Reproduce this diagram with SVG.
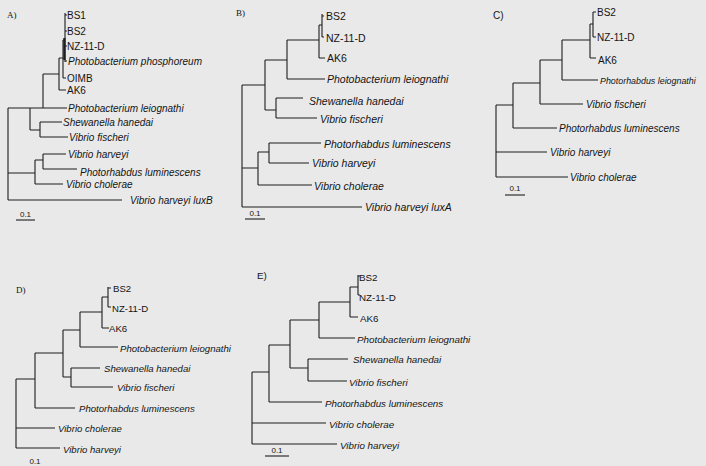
<svg xmlns="http://www.w3.org/2000/svg" width="706" height="466" viewBox="0 0 706 466">
<style>
.bg{fill:#e9e9e9}
.e path{fill:none;stroke:#1e1e1e;stroke-width:1.1}
text{font-family:"Liberation Sans",Arial,sans-serif;font-size:10px;fill:#141414}
#panelB text{font-size:10.5px}
#panelD text{font-size:9.6px}
#panelE text{font-size:9.8px}
#panelC text.small{font-size:8.9px}
.sp{font-style:italic}
#panelA .pl,#panelB .pl,#panelD .pl{font-family:"Liberation Serif","Times New Roman",serif;font-size:9px}
.pls{font-size:10px}
#panelA .sc,#panelB .sc,#panelC .sc,#panelD .sc,#panelE .sc{font-size:8px}
</style>
<rect class="bg" x="0" y="0" width="706" height="466"/>

<!-- Panel A -->
<g id="panelA">
<text class="pl" x="7" y="18">A)</text>
<g id="A-edges" class="e">
<path d="M8 108V200M8 108H30M30 108V130M30 108H43M43 74V108M43 108H67M43 74H59M59 58V90M59 90H66M59 58H63M63 40V78M63 78H66M63 40H65M65 13V62M65 15H67M65 31H67M65 46H67M65 61H67"/>
<path d="M30 130H40M40 122V137M40 122H62M40 137H68"/>
<path d="M8 173H35M35 160V184M35 160H43M43 154V169M43 154H66M43 169H77M35 184H63M8 200H122"/>
<path d="M16 220H35"/>
<rect x="63.3" y="38" width="2.2" height="22" fill="#1e1e1e" stroke="none"/>
</g>
<g id="A-BS1"><text x="67" y="19">BS1</text></g>
<g id="A-BS2"><text x="67" y="35">BS2</text></g>
<g id="A-NZ"><text x="67" y="50">NZ-11-D</text></g>
<g id="A-Pphos"><text class="sp" x="68" y="65">Photobacterium phosphoreum</text></g>
<g id="A-OIMB"><text x="67" y="82">OIMB</text></g>
<g id="A-AK6"><text x="67" y="94">AK6</text></g>
<g id="A-Pleio"><text class="sp" x="68" y="112">Photobacterium leiognathi</text></g>
<g id="A-Shew"><text class="sp" x="63" y="126">Shewanella hanedai</text></g>
<g id="A-Vfis"><text class="sp" x="69" y="141">Vibrio fischeri</text></g>
<g id="A-Vhar"><text class="sp" x="68" y="158">Vibrio harveyi</text></g>
<g id="A-Plum"><text class="sp" x="80" y="176">Photorhabdus luminescens</text></g>
<g id="A-Vcho"><text class="sp" x="66" y="188">Vibrio cholerae</text></g>
<g id="A-luxB"><text class="sp" x="130" y="204">Vibrio harveyi luxB</text></g>
<g id="A-scale"><text class="sc" x="25.5" y="217" text-anchor="middle">0.1</text></g>
</g>

<!-- Panel B -->
<g id="panelB">
<text class="pl" x="236" y="16">B)</text>
<g id="B-edges" class="e">
<path d="M242 85V207M242 85H265M265 60V110M265 60H287M287 40V79M287 79H325M287 40H319M319 25V58M319 58H325M319 25H322M322 14V37M322 16H324M322 37H324"/>
<path d="M265 110H276M276 98V118M276 98H303M276 118H317"/>
<path d="M242 168H258M258 152V185M258 152H269M269 143V163M269 143H321M269 163H309M258 185H312M242 207H362"/>
<path d="M245 219H265"/>
</g>
<g id="B-BS2"><text x="326" y="20">BS2</text></g>
<g id="B-NZ"><text x="326" y="42">NZ-11-D</text></g>
<g id="B-AK6"><text x="327" y="62">AK6</text></g>
<g id="B-Pleio"><text class="sp" x="327" y="83">Photobacterium leiognathi</text></g>
<g id="B-Shew"><text class="sp" x="309" y="105">Shewanella hanedai</text></g>
<g id="B-Vfis"><text class="sp" x="320" y="123">Vibrio fischeri</text></g>
<g id="B-Plum"><text class="sp" x="324" y="148">Photorhabdus luminescens</text></g>
<g id="B-Vhar"><text class="sp" x="312" y="167">Vibrio harveyi</text></g>
<g id="B-Vcho"><text class="sp" x="314" y="190">Vibrio cholerae</text></g>
<g id="B-luxA"><text class="sp" x="365" y="211">Vibrio harveyi luxA</text></g>
<g id="B-scale"><text class="sc" x="255" y="216" text-anchor="middle">0.1</text></g>
</g>

<!-- Panel C -->
<g id="panelC">
<text class="pls" x="493" y="19">C)</text>
<g id="C-edges" class="e">
<path d="M593 12V37M593 12H596M593 37H596M590 24H593M590 24V58M590 58H596M562 40H590M562 40V80M562 80H598M540 60H562M540 60V104M540 104H583M513 83H540M513 83V128M513 128H557M496 105H513M496 105V177M496 152H547M496 177H568"/>
<path d="M505 195H525"/>
</g>
<g id="C-BS2"><text x="597" y="16">BS2</text></g>
<g id="C-NZ"><text x="597" y="41">NZ-11-D</text></g>
<g id="C-AK6"><text x="598" y="64">AK6</text></g>
<g id="C-Pleio"><text class="sp small" x="600" y="84">Photorhabdus leiognathi</text></g>
<g id="C-Vfis"><text class="sp" x="586" y="108">Vibrio fischeri</text></g>
<g id="C-Plum"><text class="sp" x="559" y="132">Photorhabdus luminescens</text></g>
<g id="C-Vhar"><text class="sp" x="550" y="156">Vibrio harveyi</text></g>
<g id="C-Vcho"><text class="sp" x="570" y="181">Vibrio cholerae</text></g>
<g id="C-scale"><text class="sc" x="515" y="191" text-anchor="middle">0.1</text></g>
</g>

<!-- Panel D -->
<g id="panelD">
<text class="pl" x="16" y="293">D)</text>
<g id="D-edges" class="e">
<path d="M108 287V307M108 288H111M108 307H111M102 297H108M102 297V328M102 328H109M80 312H102M80 312V347M80 347H118M63 330H80M63 330V377M63 377H71M71 368V387M71 368H100M71 387H113M35 353H63M35 353V408M35 408H75M16 379H35M16 379V448M16 428H55M16 448H60"/>
</g>
<g id="D-BS2"><text x="113" y="292">BS2</text></g>
<g id="D-NZ"><text x="112" y="312">NZ-11-D</text></g>
<g id="D-AK6"><text x="109" y="332">AK6</text></g>
<g id="D-Pleio"><text class="sp" x="120" y="352">Photobacterium leiognathi</text></g>
<g id="D-Shew"><text class="sp" x="104" y="372">Shewanella hanedai</text></g>
<g id="D-Vfis"><text class="sp" x="117" y="391">Vibrio fischeri</text></g>
<g id="D-Plum"><text class="sp" x="79" y="412">Photorhabdus luminescens</text></g>
<g id="D-Vcho"><text class="sp" x="58" y="432">Vibrio cholerae</text></g>
<g id="D-Vhar"><text class="sp" x="63" y="453">Vibrio harveyi</text></g>
<g id="D-scale"><text class="sc" x="35" y="464" text-anchor="middle">0.1</text></g>
</g>

<!-- Panel E -->
<g id="panelE">
<text class="pls" x="257" y="279">E)</text>
<g id="E-edges" class="e">
<path d="M358 275V295M358 276H360M358 295H360M350 287H358M350 287V317M350 317H358M319 302H350M319 302V338M319 338H355M290 320H319M290 320V368M290 368H308M308 359V381M308 359H348M308 381H347M269 345H290M269 345V402M269 402H322M252 372H269M252 372V444M252 423H326M252 444H337"/>
<path d="M265 456H289"/>
</g>
<g id="E-BS2"><text x="359" y="281">BS2</text></g>
<g id="E-NZ"><text x="359" y="301">NZ-11-D</text></g>
<g id="E-AK6"><text x="360" y="322">AK6</text></g>
<g id="E-Pleio"><text class="sp" x="357" y="343">Photobacterium leiognathi</text></g>
<g id="E-Shew"><text class="sp" x="353" y="363">Shewanella hanedai</text></g>
<g id="E-Vfis"><text class="sp" x="349" y="386">Vibrio fischeri</text></g>
<g id="E-Plum"><text class="sp" x="325" y="407">Photorhabdus luminescens</text></g>
<g id="E-Vcho"><text class="sp" x="329" y="428">Vibrio cholerae</text></g>
<g id="E-Vhar"><text class="sp" x="340" y="449">Vibrio harveyi</text></g>
<g id="E-scale"><text class="sc" x="277" y="453" text-anchor="middle">0.1</text></g>
</g>
</svg>
